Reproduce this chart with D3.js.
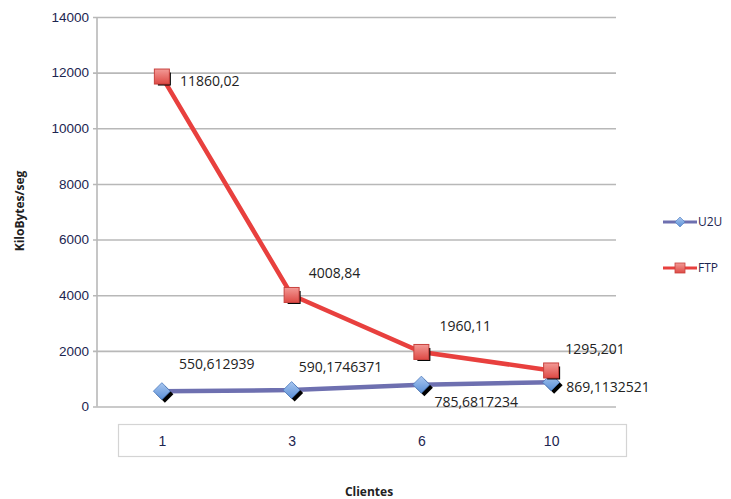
<!DOCTYPE html>
<html>
<head>
<meta charset="utf-8">
<script src="https://cdn.jsdelivr.net/npm/d3@7"></script>
<style>
  html, body { margin: 0; padding: 0; background: #fff; }
  svg { display: block; font-family: "Open Sans", "DejaVu Sans", sans-serif; }
</style>
</head>
<body>
<svg id="chart" width="731" height="499"></svg>
<script>
// Throughput per number of clients
const clientes = ["1", "3", "6", "10"];
const u2uValues = [550.612939, 590.1746371, 785.6817234, 869.1132521];
const ftpValues = [11860.02, 4008.84, 1960.11, 1295.201];
const u2uLabels = ["550,612939", "590,1746371", "785,6817234", "869,1132521"];
const ftpLabels = ["11860,02", "4008,84", "1960,11", "1295,201"];
const yTicks = [0, 2000, 4000, 6000, 8000, 10000, 12000, 14000];
const seriesNames = ["U2U", "FTP"];

const svg = d3.select("#chart");
const plot = { left: 97, right: 616, top: 17, bottom: 406.5 };

const x = d3.scalePoint().domain(clientes).range([plot.left, plot.right]).padding(0.5);
const y = d3.scaleLinear().domain([0, 14000]).range([plot.bottom, plot.top]);

const tickColor = "#1c2550";

// Horizontal gridlines and y axis
const yAxis = d3.axisLeft(y).tickValues(yTicks).tickSize(plot.right - plot.left + 4).tickPadding(10).tickFormat(d3.format("d"));
const gy = svg.append("g")
  .attr("transform", `translate(${plot.right},0)`)
  .call(yAxis);
gy.select(".domain").remove();
gy.selectAll(".tick line").attr("stroke", "#b8b8b8").attr("stroke-width", 1.6);
gy.selectAll(".tick text")
  .attr("fill", tickColor)
  .attr("font-size", 13.5)
  .attr("x", -(plot.right - plot.left) - 8);

svg.append("line")
  .attr("x1", plot.left).attr("x2", plot.left)
  .attr("y1", plot.top).attr("y2", plot.bottom)
  .attr("stroke", "#b8b8b8").attr("stroke-width", 1.6);

// Category axis in its own framed box
svg.append("rect")
  .attr("x", 118.5).attr("y", 424.5).attr("width", 508).attr("height", 32)
  .attr("fill", "#fff").attr("stroke", "#d4d4d4").attr("stroke-width", 1.2);
const xAxis = d3.axisBottom(x).tickSize(0).tickPadding(0);
const gx = svg.append("g").attr("transform", "translate(0,441)").call(xAxis);
gx.select(".domain").remove();
gx.selectAll(".tick text")
  .attr("fill", tickColor).attr("font-size", 14)
  .attr("dy", "0.35em");

// Axis titles
svg.append("text")
  .attr("transform", "translate(24,211) rotate(-90)")
  .attr("text-anchor", "middle")
  .attr("font-size", 12).attr("font-weight", "bold").attr("fill", "#222")
  .text("KiloBytes/seg");
svg.append("text")
  .attr("x", 369).attr("y", 496)
  .attr("text-anchor", "middle")
  .attr("font-size", 12).attr("font-weight", "bold").attr("fill", "#222")
  .text("Clientes");

// Marker gradients
const defs = svg.append("defs");
const gSq = defs.append("linearGradient").attr("id", "sqGrad").attr("x1", 0).attr("y1", 0).attr("x2", 0).attr("y2", 1);
gSq.append("stop").attr("offset", "0%").attr("stop-color", "#f39a96");
gSq.append("stop").attr("offset", "100%").attr("stop-color", "#de4a45");
const gDi = defs.append("linearGradient").attr("id", "diGrad").attr("x1", 0).attr("y1", 0).attr("x2", 0).attr("y2", 1);
gDi.append("stop").attr("offset", "0%").attr("stop-color", "#a9c7f0");
gDi.append("stop").attr("offset", "100%").attr("stop-color", "#5a8fd6");

const line = d3.line().x((d, i) => x(clientes[i])).y(d => y(d));

function diamond(g, cx, cy, r) {
  g.append("path")
    .attr("d", `M${cx},${cy - r}L${cx + r},${cy}L${cx},${cy + r}L${cx - r},${cy}Z`);
}

// U2U series
svg.append("path").datum(u2uValues)
  .attr("d", line).attr("fill", "none")
  .attr("stroke", "#6e70b0").attr("stroke-width", 4.5);
u2uValues.forEach((v, i) => {
  const cx = x(clientes[i]), cy = y(v);
  const sh = svg.append("g").attr("fill", "#000");
  diamond(sh, cx + 3, cy + 3, 8.5);
  const mk = svg.append("g").attr("fill", "url(#diGrad)").attr("stroke", "#4a78bd").attr("stroke-width", 0.8);
  diamond(mk, cx, cy, 8.5);
});

// FTP series
svg.append("path").datum(ftpValues)
  .attr("d", line).attr("fill", "none")
  .attr("stroke", "#e8403e").attr("stroke-width", 4.5);
ftpValues.forEach((v, i) => {
  const cx = x(clientes[i]), cy = y(v);
  svg.append("rect").attr("x", cx - 4).attr("y", cy - 4).attr("width", 13).attr("height", 13).attr("fill", "#000");
  svg.append("rect").attr("x", cx - 7.5).attr("y", cy - 7.5).attr("width", 15).attr("height", 15)
    .attr("fill", "url(#sqGrad)").attr("stroke", "#c8423e").attr("stroke-width", 1);
});

// Data labels
const labelFont = 14;
const u2uOffsets = [[17, -27], [7, -23], [13, 17], [15, 5]];
const ftpOffsets = [[18, 5], [17, -22], [18, -26], [14, -21]];
u2uValues.forEach((v, i) => {
  svg.append("text")
    .attr("x", x(clientes[i]) + u2uOffsets[i][0])
    .attr("y", y(v) + u2uOffsets[i][1])
    .attr("font-size", labelFont).attr("fill", "#222").attr("dy", "0.35em")
    .text(u2uLabels[i]);
});
ftpValues.forEach((v, i) => {
  svg.append("text")
    .attr("x", x(clientes[i]) + ftpOffsets[i][0])
    .attr("y", y(v) + ftpOffsets[i][1])
    .attr("font-size", labelFont).attr("fill", "#222").attr("dy", "0.35em")
    .text(ftpLabels[i]);
});

// Legend
const legend = [
  { name: seriesNames[0], y: 222, color: "#6e70b0", marker: "diamond" },
  { name: seriesNames[1], y: 268, color: "#e8403e", marker: "square" }
];
legend.forEach(d => {
  svg.append("line").attr("x1", 663).attr("x2", 697).attr("y1", d.y).attr("y2", d.y)
    .attr("stroke", d.color).attr("stroke-width", 3);
  if (d.marker === "diamond") {
    const mk = svg.append("g").attr("fill", "url(#diGrad)").attr("stroke", "#4a78bd").attr("stroke-width", 0.6);
    diamond(mk, 680, d.y, 5);
  } else {
    svg.append("rect").attr("x", 675).attr("y", d.y - 5).attr("width", 10).attr("height", 10)
      .attr("fill", "url(#sqGrad)").attr("stroke", "#c8423e").attr("stroke-width", 0.8);
  }
  svg.append("text").attr("x", 698).attr("y", d.y).attr("dy", "0.35em")
    .attr("font-size", 12).attr("fill", tickColor).text(d.name);
});
</script>
</body>
</html>
